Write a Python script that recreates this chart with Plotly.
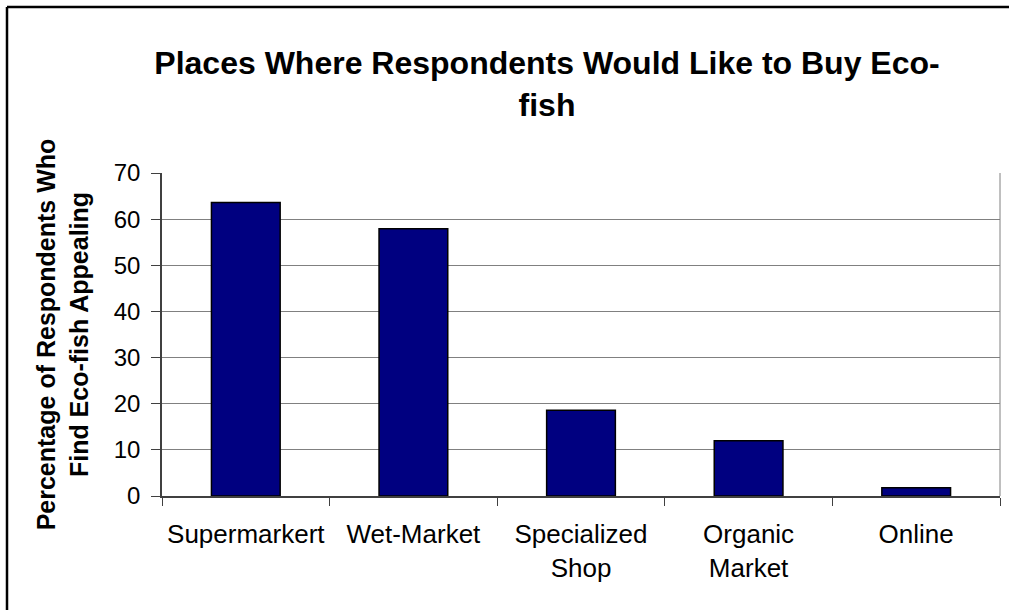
import plotly.graph_objects as go

# Survey results: where respondents would like to buy eco-fish
places = ["Supermarkert", "Wet-Market", "Specialized<br>Shop", "Organic<br>Market", "Online"]
percent = [63.6, 57.9, 18.6, 12.0, 1.8]
y_ticks = [0, 10, 20, 30, 40, 50, 60, 70]

W, H = 1009, 610
L, R, T, B = 162, 9, 173, 114  # plot-area margins in pixels
pw, ph = W - L - R, H - T - B

def px_x(x):
    return (x - L) / pw

def px_y(y):
    return (H - B - y) / ph

FONT = "Liberation Sans, Arial, sans-serif"

fig = go.Figure(
    go.Bar(
        x=places,
        y=percent,
        marker=dict(color="#000080", line=dict(color="#000000", width=1.5)),
        width=0.41,
    )
)

fig.update_layout(
    width=W,
    height=H,
    margin=dict(l=L, r=R, t=T, b=B),
    paper_bgcolor="white",
    plot_bgcolor="white",
    showlegend=False,
    font=dict(family=FONT, color="black"),
    title=dict(
        text="<b>Places Where Respondents Would Like to Buy Eco-<br>fish</b>",
        font=dict(family=FONT, size=32, color="black"),
        x=547 / W,
        xref="container",
        xanchor="center",
        y=1 - 74 / H,
        yref="container",
        yanchor="top",
    ),
)

fig.update_xaxes(
    showline=True,
    linecolor="#404040",
    linewidth=1.5,
    ticks="outside",
    ticklen=8,
    tickcolor="#404040",
    tickson="boundaries",
    ticklabelstandoff=14,
    tickfont=dict(size=26, family=FONT, color="black"),
    showgrid=False,
)

fig.update_yaxes(
    range=[0, 70],
    tickvals=y_ticks,
    showline=True,
    linecolor="#404040",
    linewidth=1.5,
    ticks="outside",
    ticklen=9,
    tickcolor="#404040",
    ticklabelstandoff=6,
    showgrid=True,
    gridcolor="#808080",
    gridwidth=1,
    zeroline=False,
    tickfont=dict(size=24, family=FONT, color="black"),
    title=dict(
        text="<b>Percentage of Respondents Who<br>Find Eco-fish Appealing</b>",
        font=dict(size=25, family=FONT, color="black"),
        standoff=18,
    ),
)

fig.update_layout(
    shapes=[
        # plot-area frame (right edge)
        dict(type="line", xref="paper", yref="paper", x0=1, x1=1, y0=0, y1=1,
             line=dict(color="#808080", width=1)),
        # outer chart frame: left and top edges
        dict(type="line", xref="paper", yref="paper",
             x0=px_x(7), x1=px_x(7), y0=px_y(7), y1=px_y(H + 5),
             line=dict(color="black", width=2.5)),
        dict(type="line", xref="paper", yref="paper",
             x0=px_x(7), x1=px_x(W + 5), y0=px_y(7), y1=px_y(7),
             line=dict(color="black", width=2.5)),
    ]
)

fig.write_html("out.html")
